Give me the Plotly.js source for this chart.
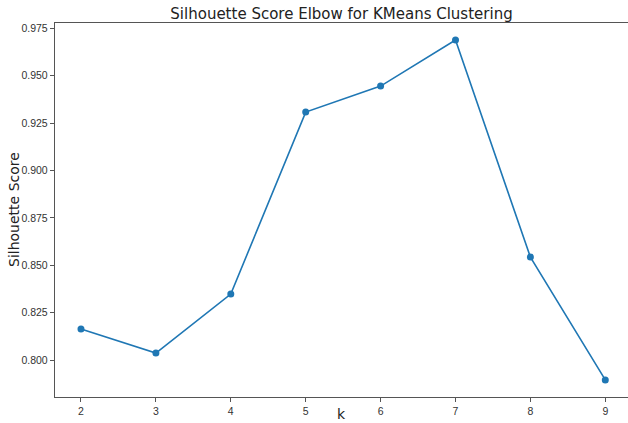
<!DOCTYPE html>
<html>
<head>
<meta charset="utf-8">
<script src="https://cdn.plot.ly/plotly-3.0.1.min.js"></script>
<style>html,body{margin:0;padding:0;background:#fff;}#chart{width:628px;height:423px;}</style>
</head>
<body>
<div id="chart"></div>
<script>
const kValues = [2, 3, 4, 5, 6, 7, 8, 9];
const silhouetteScores = [0.8164, 0.8037, 0.8348, 0.9308, 0.9445, 0.9688, 0.8543, 0.7895];
const yTickVals = [0.800, 0.825, 0.850, 0.875, 0.900, 0.925, 0.950, 0.975];
const yTickText = ['0.800', '0.825', '0.850', '0.875', '0.900', '0.925', '0.950', '0.975'];
const xTitle = 'k';
const yTitle = 'Silhouette Score';

const tickFont = {family: 'Liberation Sans Narrow, Liberation Sans, sans-serif', size: 10.5, color: '#333333'};

const trace = {
  x: kValues,
  y: silhouetteScores,
  type: 'scatter',
  mode: 'lines+markers',
  line: {color: '#1f77b4', width: 1.6},
  marker: {color: '#1f77b4', size: 7},
  hoverinfo: 'x+y'
};

const layout = {
  width: 628,
  height: 423,
  margin: {l: 55, r: 0, t: 23, b: 26},
  paper_bgcolor: '#ffffff',
  plot_bgcolor: '#ffffff',
  showlegend: false,
  font: {family: 'DejaVu Sans, sans-serif', color: '#333333'},
  title: {
    text: 'Silhouette Score Elbow for KMeans Clustering',
    font: {size: 15, color: '#222222'},
    x: 0.5, xref: 'paper', xanchor: 'center',
    y: 0.967, yref: 'container', yanchor: 'middle'
  },
  xaxis: {
    range: [1.653, 9.303],
    tickvals: kValues,
    ticktext: kValues.map(String),
    showgrid: false,
    zeroline: false,
    showline: true,
    linecolor: '#555555',
    linewidth: 1.2,
    mirror: true,
    ticks: 'outside',
    ticklen: 4,
    tickcolor: '#555555',
    tickfont: tickFont
  },
  yaxis: {
    range: [0.7805, 0.9778],
    tickvals: yTickVals,
    ticktext: yTickText,
    showgrid: false,
    zeroline: false,
    showline: true,
    linecolor: '#555555',
    linewidth: 1.2,
    mirror: false,
    ticks: 'outside',
    ticklen: 4,
    tickcolor: '#555555',
    tickfont: tickFont
  },
  annotations: [
    {
      text: xTitle, showarrow: false,
      xref: 'paper', x: 0.5, xanchor: 'center',
      yref: 'paper', y: 0, yshift: -17, yanchor: 'middle',
      font: {size: 14, color: '#222222'}
    },
    {
      text: yTitle, showarrow: false, textangle: -90,
      xref: 'paper', x: 0, xshift: -41, xanchor: 'center',
      yref: 'paper', y: 0.5, yanchor: 'middle',
      font: {size: 14, color: '#222222'}
    }
  ]
};

Plotly.newPlot('chart', [trace], layout, {displayModeBar: false, staticPlot: true});
</script>
</body>
</html>
